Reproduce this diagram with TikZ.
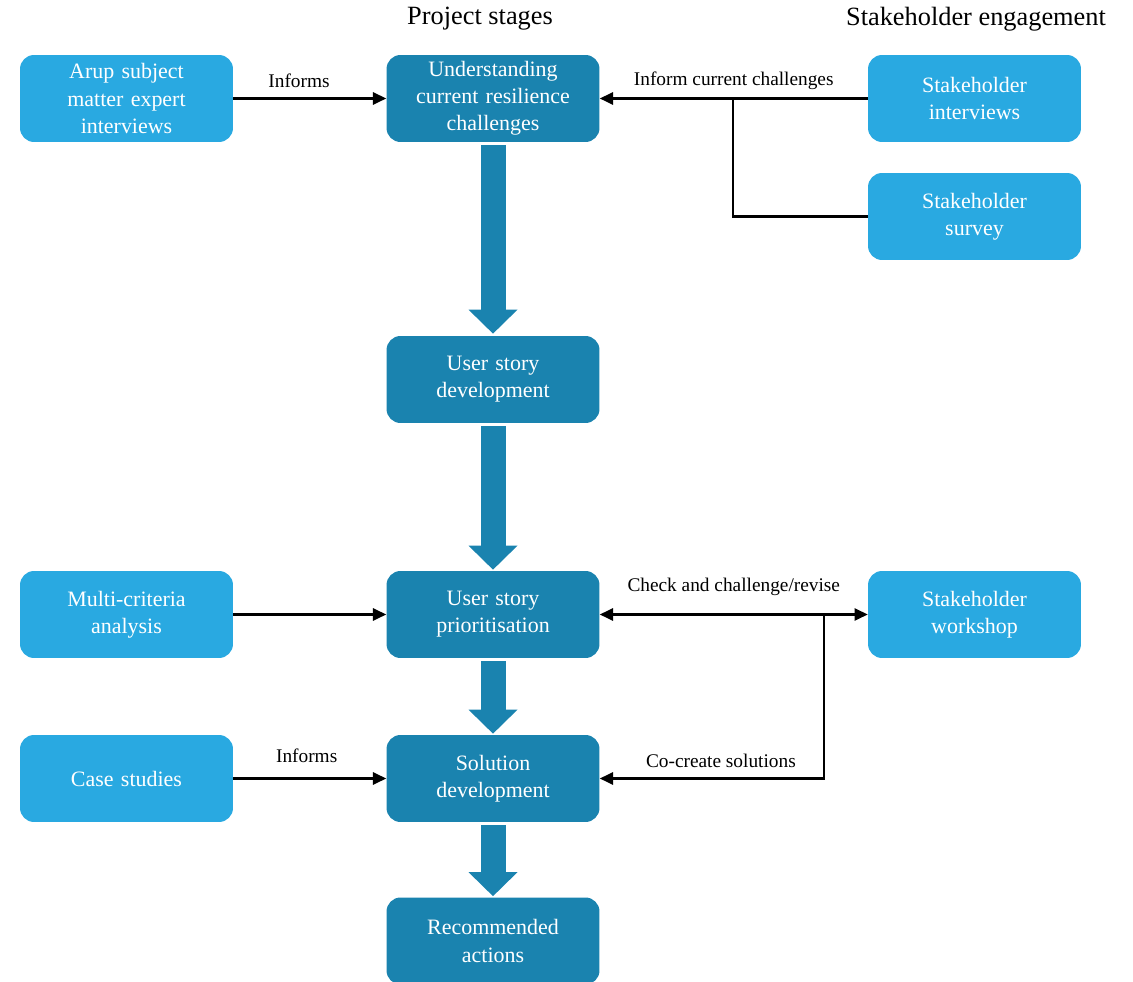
\documentclass[tikz,border=0pt]{standalone}
\usepackage{fontspec}
\setmainfont{Liberation Serif}
\usetikzlibrary{arrows.meta}
\definecolor{stageblue}{HTML}{1A83AF}
\definecolor{engageblue}{HTML}{29A9E1}
\begin{document}
\begin{tikzpicture}[x=0.02cm, y=-0.02cm,
            box/.style={rectangle, rounded corners=0.28cm, minimum width=4.26cm, minimum height=1.74cm, text width=4cm, align=center, text=white, font=\fontsize{12.5}{15.4}\selectfont},
            stage/.style={box, fill=stageblue},
            source/.style={box, fill=engageblue},
            flow/.style={-{Triangle[length=7.5pt, width=7pt]}, line width=1.2pt},
            lbl/.style={font=\fontsize{11}{13}\selectfont, above=2pt},
            bigarrow/.style={draw=stageblue, line width=0.5cm, -{Triangle[length=0.48cm, width=0.98cm, line width=0pt]}, shorten <=0.06cm}]
            \useasboundingbox (0,0) rectangle (1133,982);
            % column titles
            \node[font=\fontsize{15}{18}\selectfont] (stagetitle) at (480,19) {Project stages};
            \node[font=\fontsize{15}{18}\selectfont] (engagetitle) at (976,19) {Stakeholder engagement};

            % project stages
            \node[stage] (understand) at (493,98.5) {Understanding\\current resilience\\challenges};
            \node[stage] (userstory) at (493,379.5) {User story\\development};
            \node[stage] (prioritise) at (493,614.5) {User story\\prioritisation};
            \node[stage] (solution) at (493,778.5) {Solution\\development};
            \node[stage] (actions) at (493,941) {Recommended\\actions};

            % inputs
            \node[source] (arup) at (126.5,98.5) {Arup subject\\matter expert\\interviews};
            \node[source] (mca) at (126.5,614.5) {Multi-criteria\\analysis};
            \node[source] (cases) at (126.5,778.5) {Case studies};
            \node[source] (interviews) at (974.5,98.5) {Stakeholder\\interviews};
            \node[source] (survey) at (974.5,216.5) {Stakeholder\\survey};
            \node[source] (workshop) at (974.5,614.5) {Stakeholder\\workshop};

            \coordinate (surveyjoin) at (733,98.5);
            \coordinate (workshopjoin) at (824,614.5);

            \draw[bigarrow, shorten >=0.04cm] (understand) -- (userstory);
            \draw[bigarrow, shorten >=0.02cm] (userstory) -- (prioritise);
            \draw[bigarrow, shorten >=0.02cm] (prioritise) -- (solution);
            \draw[bigarrow, shorten >=0.02cm] (solution) -- (actions);

            \draw[flow] (arup) -- node[lbl, pos=0.43] {Informs} (understand);
            \draw[flow] (interviews) -- node[lbl, above=-1pt] {Inform current challenges} (understand);
            \draw[line width=1.2pt] (survey.west) -| (surveyjoin);
            \draw[flow] (mca) -- (prioritise);
            \draw[flow, {Triangle[length=7.5pt, width=7pt]}-{Triangle[length=7.5pt, width=7pt]}] (prioritise) -- node[lbl, above=5pt] {Check and challenge/revise} (workshop);
            \draw[flow] (workshopjoin) |- node[lbl, pos=0.73] {Co-create solutions} (solution.east);
            \draw[flow] (cases) -- node[lbl, pos=0.48, above=3pt] {Informs} (solution);
        \end{tikzpicture}
\end{document}
